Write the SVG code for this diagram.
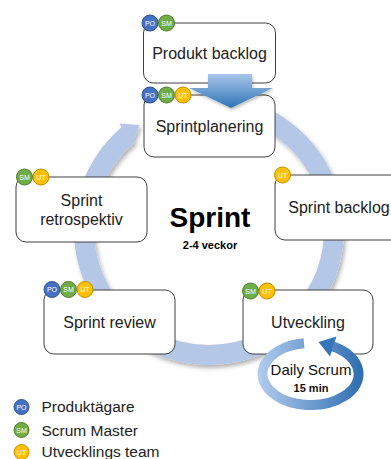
<svg xmlns="http://www.w3.org/2000/svg" width="391" height="459" viewBox="0 0 391 459">
<defs>
  <filter id="shadow" x="-20%" y="-20%" width="140%" height="140%">
    <feDropShadow dx="2" dy="3" stdDeviation="2" flood-color="#000" flood-opacity="0.3"/>
  </filter>
  <filter id="shadowS" x="-20%" y="-20%" width="140%" height="140%">
    <feDropShadow dx="1" dy="2" stdDeviation="1.5" flood-color="#000" flood-opacity="0.25"/>
  </filter>
  <linearGradient id="downGrad" x1="0" y1="0" x2="0" y2="1">
    <stop offset="0" stop-color="#a8c6ea"/>
    <stop offset="1" stop-color="#2e74b6"/>
  </linearGradient>
  <linearGradient id="dailyGrad" gradientUnits="userSpaceOnUse" x1="257" y1="0" x2="364" y2="0">
    <stop offset="0" stop-color="#b2cdee"/>
    <stop offset="1" stop-color="#2c6cb0"/>
  </linearGradient>
  <style>
    .box { fill: #fff; stroke: #404040; stroke-width: 1; }
    .lbl { font-family: "Liberation Sans", Arial, sans-serif; font-size: 16px; fill: #222; text-anchor: middle; }
    .bt { font-family: "Liberation Sans", Arial, sans-serif; font-size: 7px; fill: #fff; text-anchor: middle; }
    .po { fill: #4472c4; stroke: #2f528f; stroke-width: 1; }
    .sm { fill: #70ad47; stroke: #507e32; stroke-width: 1; }
    .ut { fill: #ffc000; stroke: #bf9000; stroke-width: 1; }
    .leg { font-family: "Liberation Sans", Arial, sans-serif; font-size: 15.5px; fill: #222; }
  </style>
</defs>
<rect width="391" height="459" fill="#fff"/>

<g id="connectors">
  <g id="cycle" filter="url(#shadow)">
    <path d="M 241.35 109.26 A 125 125 0 1 1 128.65 134.25" fill="none" stroke="#b4c7e7" stroke-width="20"/>
    <polygon points="119.5,123.5 139.5,125 131,147" fill="#b4c7e7"/>
  </g>
</g>

<g id="node-produkt-backlog">
  <rect class="box" x="143.5" y="23" width="132" height="60" rx="10"/>
  <text class="lbl" x="209.5" y="58.5">Produkt backlog</text>
  <circle class="po" cx="150" cy="23" r="8"/><text class="bt" x="150" y="25.5">PO</text>
  <circle class="sm" cx="166.5" cy="23" r="8"/><text class="bt" x="166.5" y="25.5">SM</text>
</g>

<g id="node-sprintplanering">
  <rect class="box" x="144" y="95" width="131" height="62" rx="10"/>
  <text class="lbl" x="209.5" y="132">Sprintplanering</text>
  <circle class="po" cx="150" cy="95" r="8"/><text class="bt" x="150" y="97.5">PO</text>
  <circle class="sm" cx="166.5" cy="95" r="8"/><text class="bt" x="166.5" y="97.5">SM</text>
  <circle class="ut" cx="183" cy="95" r="8"/><text class="bt" x="183" y="97.5">UT</text>
</g>

<g id="down-arrow" filter="url(#shadowS)">
  <polygon points="208,74 252,74 252,88 273,88 231,108 189,88 208,88" fill="url(#downGrad)"/>
</g>

<g id="node-sprint-backlog">
  <rect class="box" x="275" y="175" width="128" height="65" rx="10"/>
  <text class="lbl" x="339" y="213">Sprint backlog</text>
  <circle class="ut" cx="282.5" cy="175" r="8"/><text class="bt" x="282.5" y="177.5">UT</text>
</g>

<g id="node-sprint-retrospektiv">
  <rect class="box" x="16" y="177" width="131" height="65" rx="10"/>
  <text class="lbl" x="81.5" y="206">Sprint</text>
  <text class="lbl" x="81.5" y="225">retrospektiv</text>
  <circle class="sm" cx="24.5" cy="177" r="8"/><text class="bt" x="24.5" y="179.5">SM</text>
  <circle class="ut" cx="41" cy="177" r="8"/><text class="bt" x="41" y="179.5">UT</text>
</g>

<g id="node-sprint-review">
  <rect class="box" x="44" y="290" width="131" height="64" rx="10"/>
  <text class="lbl" x="109.5" y="328">Sprint review</text>
  <circle class="po" cx="52" cy="289.5" r="8"/><text class="bt" x="52" y="292">PO</text>
  <circle class="sm" cx="68.5" cy="289.5" r="8"/><text class="bt" x="68.5" y="292">SM</text>
  <circle class="ut" cx="85" cy="289.5" r="8"/><text class="bt" x="85" y="292">UT</text>
</g>

<g id="node-utveckling">
  <rect class="box" x="243" y="290" width="130" height="64" rx="10"/>
  <text class="lbl" x="308" y="328">Utveckling</text>
  <circle class="sm" cx="250.5" cy="291" r="8"/><text class="bt" x="250.5" y="293.5">SM</text>
  <circle class="ut" cx="267" cy="291" r="8"/><text class="bt" x="267" y="293.5">UT</text>
</g>

<g id="node-daily-scrum">
  <ellipse cx="310.5" cy="374" rx="48" ry="31" fill="#fff"/>
  <path d="M 304 343.3 A 48 31 0 1 0 333 346.6" fill="none" stroke="url(#dailyGrad)" stroke-width="10"/>
  <polygon points="336.5,336.5 318.5,342 330,356.5" fill="#3775b9"/>
  <text x="311" y="375" font-family="Liberation Sans, Arial, sans-serif" font-size="15" fill="#111" text-anchor="middle">Daily Scrum</text>
  <text x="311" y="392" font-family="Liberation Sans, Arial, sans-serif" font-size="11" font-weight="bold" fill="#111" text-anchor="middle">15 min</text>
</g>

<g id="title">
  <text x="210" y="227" font-family="Liberation Sans, Arial, sans-serif" font-size="28" font-weight="bold" fill="#000" text-anchor="middle">Sprint</text>
  <text x="210" y="249" font-family="Liberation Sans, Arial, sans-serif" font-size="11" font-weight="bold" fill="#000" text-anchor="middle">2-4 veckor</text>
</g>

<g id="legend">
  <circle class="po" cx="21.5" cy="407" r="7.5"/><text class="bt" x="21.5" y="409.5" font-size="6">PO</text>
  <text class="leg" x="41.5" y="412">Produktägare</text>
  <circle class="sm" cx="21.5" cy="430" r="7.5"/><text class="bt" x="21.5" y="432.5">SM</text>
  <text class="leg" x="41.5" y="435.5">Scrum Master</text>
  <circle class="ut" cx="21.5" cy="452" r="7.5"/><text class="bt" x="21.5" y="454.5">UT</text>
  <text class="leg" x="41.5" y="457">Utvecklings team</text>
</g>
</svg>
